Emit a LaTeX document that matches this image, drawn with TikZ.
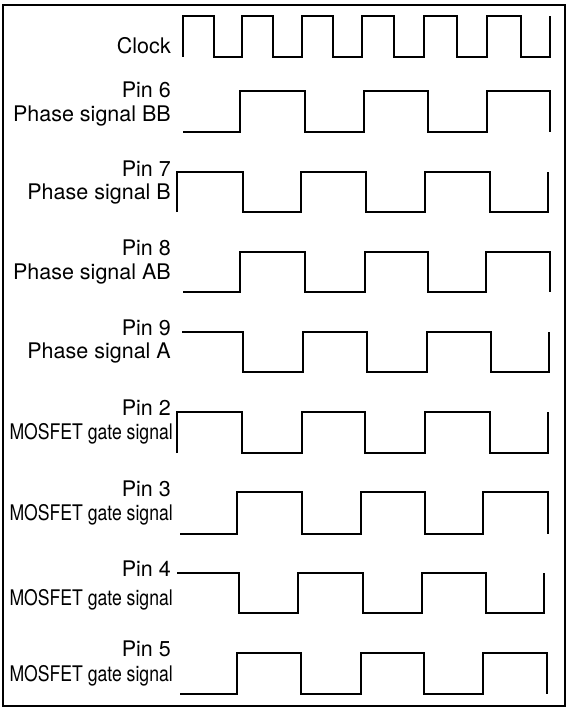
\documentclass[tikz,border=0pt]{standalone}
\usepackage{fontspec}
\setmainfont{TeX Gyre Heros}
\newfontfamily\narrowfont[FakeStretch=0.82]{TeX Gyre Heros}

\tikzset{
  wave/.style={line width=2.4pt, line join=miter},
  lbl/.style={anchor=base east, inner sep=0pt, font=\fontsize{21.5}{24}\selectfont},
  gatelbl/.style={lbl, font=\narrowfont\fontsize{21.5}{24}\selectfont}
}

\begin{document}
\begin{tikzpicture}[x=1pt,y=-1pt]
  \useasboundingbox (0,0) rectangle (568,709);
  \draw[line width=2pt] (3,5) rectangle (565,706);

  % Clock
  \node[lbl] (clk) at (171,53) {Clock};
  \draw[wave] (183,57) |- (214,16) |- (242,57) |- (273,16) |- (302,57) |- (333,16)
    |- (362,57) |- (394,16) |- (424,57) |- (457,16) |- (487,57) |- (521,16)
    |- (550,57) -- (550,16);

  % Pin 6
  \node[lbl] (p6) at (171,97) {Pin 6};
  \node[lbl] (p6s) at (171,121) {Phase signal BB};
  \draw[wave] (183,132) -| (240,91) -| (305,132) -| (364,91) -| (428,132)
    -| (487,91) -| (550,132);

  % Pin 7
  \node[lbl] (p7) at (171,176) {Pin 7};
  \node[lbl] (p7s) at (171,199) {Phase signal B};
  \draw[wave] (177,212) |- (243,172) |- (301,212) |- (366,172) |- (425,212)
    |- (490,172) |- (548,212) -- (548,172);

  % Pin 8
  \node[lbl] (p8) at (171,255) {Pin 8};
  \node[lbl] (p8s) at (171,279) {Phase signal AB};
  \draw[wave] (183,292) -| (240,252) -| (305,292) -| (365,252) -| (428,292)
    -| (486,252) -| (550,292);

  % Pin 9
  \node[lbl] (p9) at (171,335) {Pin 9};
  \node[lbl] (p9s) at (171,358) {Phase signal A};
  \draw[wave] (182,332) -| (243,372) -| (303,332) -| (367,372) -| (427,332)
    -| (491,372) -| (549,332);

  % Pin 2
  \node[lbl] (p2) at (171,415) {Pin 2};
  \node[gatelbl] (p2s) at (173,439) {MOSFET gate signal};
  \draw[wave] (177,453) |- (242,412) |- (302,453) |- (365,412) |- (425,453)
    |- (490,412) |- (548,453) -- (548,412);

  % Pin 3
  \node[lbl] (p3) at (171,496) {Pin 3};
  \node[gatelbl] (p3s) at (173,520) {MOSFET gate signal};
  \draw[wave] (180,534) -| (237,492) -| (302,534) -| (361,492) -| (425,534)
    -| (483,492) -| (548,534);

  % Pin 4
  \node[lbl] (p4) at (171,576) {Pin 4};
  \node[gatelbl] (p4s) at (173,605) {MOSFET gate signal};
  \draw[wave] (177,573) -| (239,613) -| (298,573) -| (363,613) -| (422,573)
    -| (486,613) -| (544,573);

  % Pin 5
  \node[lbl] (p5) at (171,656) {Pin 5};
  \node[gatelbl] (p5s) at (173,681) {MOSFET gate signal};
  \draw[wave] (180,694) -| (237,653) -| (301,694) -| (361,653) -| (424,694)
    -| (483,653) -| (547,694);
\end{tikzpicture}
\end{document}
